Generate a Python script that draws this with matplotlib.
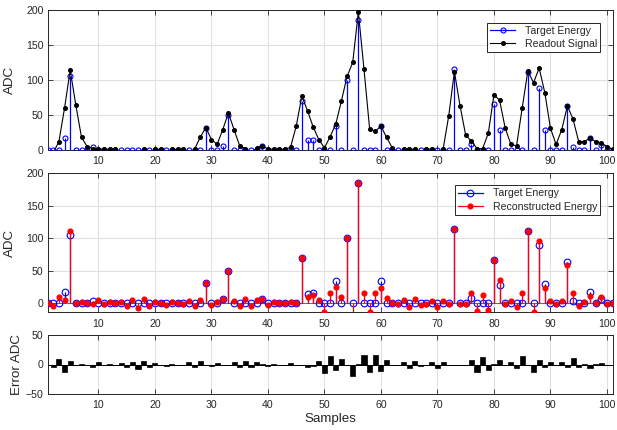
import numpy as np
import matplotlib
matplotlib.use('Agg')
import matplotlib.pyplot as plt
from matplotlib.lines import Line2D
from matplotlib.legend_handler import HandlerLine2D

samples = np.arange(1, 102)

target = [0, 0, 0, 17, 105, 0, 0, 0, 4, 0,
          0, 0, 0, 0, 0, 0, 0, 0, 0, 0,
          0, 0, 0, 0, 0, 0, 0, 0, 31, 0,
          0, 6, 50, 0, 0, 0, 0, 0, 6, 0,
          0, 0, 0, 0, 0, 70, 14, 15, 0, 0,
          0, 34, 0, 100, 0, 185, 0, 0, 0, 34,
          0, 0, 0, 0, 0, 0, 0, 0, 0, 0,
          0, 0, 115, 0, 0, 8, 0, 0, 0, 66,
          28, 0, 0, 0, 0, 111, 0, 89, 29, 0,
          0, 0, 63, 4, 0, 0, 17, 0, 7, 0,
          0]

readout = [-4, -4, 12, 60, 114, 64, 18, 5, 2, 2,
           1, 1, 1, -4, -4, -4, -4, 1, -4, 1,
           1, -4, 1, 1, 1, -4, 1, 18, 32, 15,
           8, 29, 53, 29, 6, 2, -4, 3, 6, 1.5,
           1, 1, 1, 4, 34, 77, 56, 33, 15, 3,
           19, 37, 70, 105, 125, 197, 115, 30, 27, 34,
           18, 3, -4, 1, 1, 1, -4, 2, 1, -4,
           1, 49, 112, 63, 21, 13, 2, 2, 24, 79,
           71, 31, 8, 6, 60, 113, 96, 117, 82, 31,
           8, 29, 63, 44, 12, 12, 17, 12, 10, 5,
           1]

recon = [0, -5, 10, 5, 111, 0, 1.5, 0, -1, 5,
         -1, 1.5, 0, 2, -5, 5, -7, 6, -5, 2,
         0, -2, 1.5, 0, -1.5, 3.5, -4, 5.5, 31, -3,
         2, 6, 50, 4, -4, 6, -4, 5, 7, -2.5,
         1.5, 0, 0, 2.5, 0, 70, 10, 12, 5.5, -14,
         15, 25, 10, 100, -20, 185.5, 16, -13, 16, 23,
         8, 0, -1.5, 5, -6, 6, -2.5, -1.5, 3.5, -6,
         4, -1, 115, -1, -1, 15, -12, 12, -10, 66.5,
         35, -1, 3.5, -6.5, 15, 111, -13, 96, 24, 3.5,
         -1.5, 3.5, 58.5, 15, -5, 1.5, 11, 1, 10, -1,
         0]

error = np.array(recon) - np.array(target)

plt.rcParams['font.family'] = ['Liberation Sans', 'DejaVu Sans']

AX = '#262626'
GRID = '#e0e0e0'
BLUE = '#0000ff'
RED = '#ff0000'
TICK_FS = 7.6
LAB_FS = 9.6
LEG_FS = 7.6


class EndMarkerHandler(HandlerLine2D):
    def get_xdata(self, legend, xdescent, ydescent, width, height, fontsize):
        xdata = np.array([-xdescent, -xdescent + width])
        return xdata, np.array([-xdescent + width])


class MidMarkerHandler(HandlerLine2D):
    def get_xdata(self, legend, xdescent, ydescent, width, height, fontsize):
        xdata = np.array([-xdescent, -xdescent + width])
        return xdata, np.array([-xdescent + width * 0.5])


fig = plt.figure(figsize=(6.17, 4.30), dpi=100)
L, W = 47.6 / 617, 565 / 617
ax1 = fig.add_axes([L, 1 - 150 / 430, W, 140 / 430])
ax2 = fig.add_axes([L, 1 - 312.3 / 430, W, 139 / 430])
ax3 = fig.add_axes([L, 1 - 394 / 430, W, 59 / 430])


def style(ax):
    ax.set_xlim(1, 101)
    ax.set_xticks(range(10, 101, 10))
    ax.grid(True, color=GRID, linewidth=0.8)
    ax.set_axisbelow(True)
    for s in ax.spines.values():
        s.set_color(AX)
        s.set_linewidth(0.7)
    ax.tick_params(direction='in', length=3.5, width=0.6, colors=AX,
                   labelcolor=AX, top=True, right=True, labelsize=TICK_FS)
    ax.tick_params(axis='x', pad=4.5)
    ax.tick_params(axis='y', pad=3)


# ---- top panel
style(ax1)
ax1.vlines(samples, 0, target, colors=BLUE, lw=0.9, zorder=2)
ax1.plot(samples, target, linestyle='none', marker='o', ms=3.6, mfc='none',
         mec=BLUE, mew=0.8, zorder=3)
ax1.plot(samples, readout, color='k', lw=0.8, marker='o', ms=2.6,
         mfc='k', mec='k', zorder=4)
ax1.set_ylim(0, 200)
ax1.set_yticks([0, 50, 100, 150, 200])
ax1.set_ylabel('ADC', fontsize=LAB_FS, color=AX, labelpad=7)

h1 = Line2D([], [], color=BLUE, lw=0.9, marker='o', ms=3.6, mfc='none', mec=BLUE, mew=0.8)
h2 = Line2D([], [], color='k', lw=0.8, marker='o', ms=2.6, mfc='k', mec='k')
leg1 = ax1.legend([h1, h2], ['Target Energy', 'Readout Signal'],
                  loc='upper right', bbox_to_anchor=(0.978, 0.909),
                  borderaxespad=0, fontsize=LEG_FS, handlelength=2.4,
                  handletextpad=0.9, labelspacing=0.25, borderpad=0.3,
                  fancybox=False, framealpha=1, edgecolor=AX,
                  handler_map={h1: EndMarkerHandler(), h2: MidMarkerHandler()})
leg1.get_frame().set_linewidth(0.7)
for t in leg1.get_texts():
    t.set_color(AX)

# ---- middle panel
style(ax2)
ax2.axhline(0, color='#555555', lw=0.6, zorder=1.5)
ax2.vlines(samples, 0, target, colors=BLUE, lw=0.9, zorder=2)
ax2.plot(samples, target, linestyle='none', marker='o', ms=4.8, mfc='none',
         mec=BLUE, mew=0.8, zorder=3)
ax2.vlines(samples, 0, recon, colors=RED, lw=0.9, zorder=4)
ax2.plot(samples, recon, linestyle='none', marker='o', ms=3.4, mfc=RED,
         mec=RED, zorder=5)
ax2.set_ylim(-14, 200)
ax2.set_yticks([0, 50, 100, 150, 200])
ax2.set_ylabel('ADC', fontsize=LAB_FS, color=AX, labelpad=7)

h3 = Line2D([], [], color=BLUE, lw=0.9, marker='o', ms=4.8, mfc='none', mec=BLUE, mew=0.8)
h4 = Line2D([], [], color=RED, lw=0.9, marker='o', ms=3.4, mfc=RED, mec=RED)
leg2 = ax2.legend([h3, h4], ['Target Energy', 'Reconstructed Energy'],
                  loc='upper right', bbox_to_anchor=(0.978, 0.915),
                  borderaxespad=0, fontsize=LEG_FS, handlelength=2.4,
                  handletextpad=0.9, labelspacing=0.35, borderpad=0.3,
                  fancybox=False, framealpha=1, edgecolor=AX,
                  handler_map={h3: EndMarkerHandler(), h4: EndMarkerHandler()})
leg2.get_frame().set_linewidth(0.7)
for t in leg2.get_texts():
    t.set_color(AX)

# ---- bottom panel
style(ax3)
ax3.bar(samples, error, width=0.9, color='k', edgecolor='k', lw=0.5, zorder=3)
ax3.axhline(0, color='k', lw=0.7, zorder=2)
ax3.set_ylim(-50, 50)
ax3.set_yticks([-50, 0, 50])
ax3.set_ylabel('Error ADC', fontsize=LAB_FS, color=AX, labelpad=2)
ax3.set_xlabel('Samples', fontsize=LAB_FS, color=AX, labelpad=2)

fig.savefig('out.png', dpi=100)
